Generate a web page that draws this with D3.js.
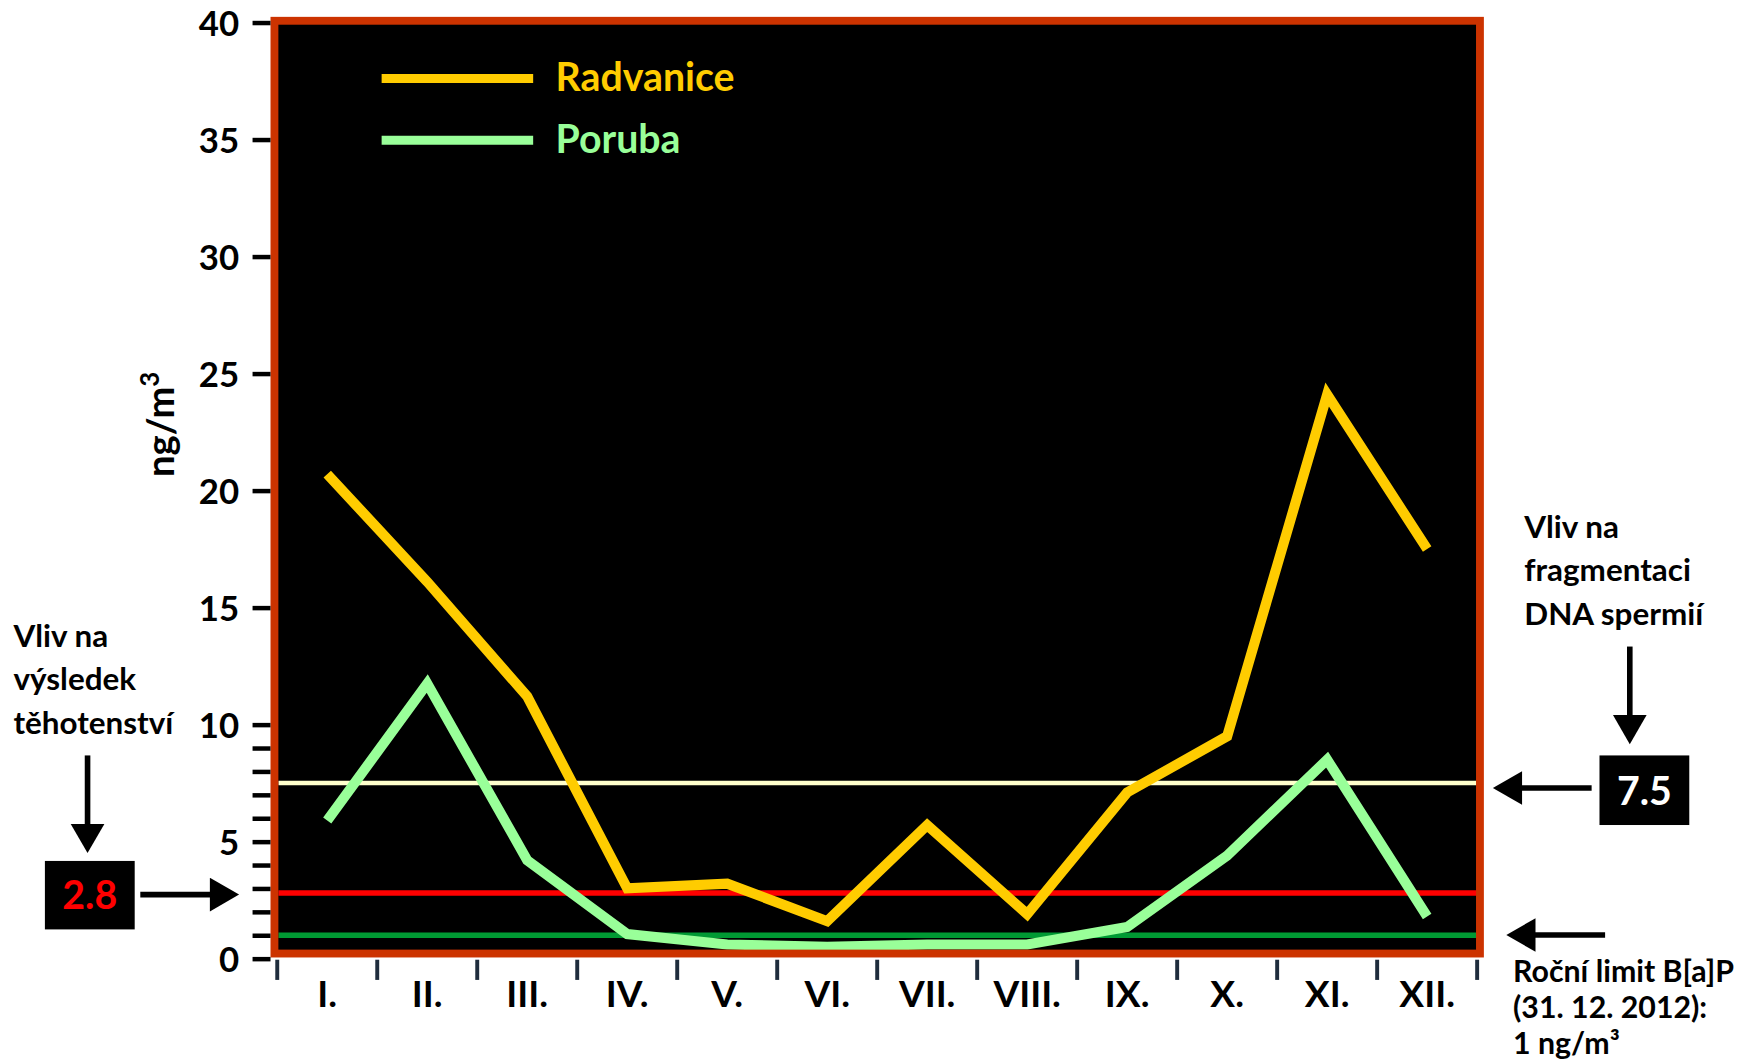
<!DOCTYPE html>
<html>
<head>
<meta charset="utf-8">
<script src="https://cdn.jsdelivr.net/npm/d3@7"></script>
<style>
html,body{margin:0;padding:0;background:#fff;}
svg{display:block;}
text{font-family:"Lato","Open Sans","Noto Sans",sans-serif;font-weight:bold;}
</style>
</head>
<body>
<svg id="chart" width="1760" height="1063" viewBox="0 0 1568 947"></svg>
<script>
// ---- data ----
const months = ["I.","II.","III.","IV.","V.","VI.","VII.","VIII.","IX.","X.","XI.","XII."];
const radvanice = [20.7, 16.1, 11.2, 3.0, 3.2, 1.6, 5.7, 1.9, 7.1, 9.5, 24.1, 17.5];
const poruba    = [5.9, 11.75, 4.2, 1.05, 0.6, 0.5, 0.6, 0.6, 1.35, 4.4, 8.5, 1.8];
const seriesNames = ["Radvanice", "Poruba"];
const refValues = [7.5, 2.8, 1.0];
const yMajorTicks = [0, 5, 10, 15, 20, 25, 30, 35, 40];
const yMinorTicks = [1, 2, 3, 4, 6, 7, 8, 9];
const leftNote = ["Vliv na", "výsledek", "těhotenství"];
const rightNote = ["Vliv na", "fragmentaci", "DNA spermií"];
const limitNote = ["Roční limit B[a]P", "(31. 12. 2012):", "1 ng/m³"];

// ---- styles ----
const seriesColors = ["#FFCC00", "#99FF99"];
const refColors = ["#FFFFCC", "#FF0000", "#009933"];
const refWidths = [4, 5, 5];

const svg = d3.select("#chart");

const x = d3.scaleBand().domain(months).range([247, 1316]);
const y = d3.scaleLinear().domain([0, 40]).range([854, 20]);

// plot background
svg.append("rect").attr("x", 244.5).attr("y", 18.5).attr("width", 1074).attr("height", 831).attr("fill", "#000");

// reference lines
svg.selectAll("line.ref").data(refValues).enter().append("line")
  .attr("x1", 248).attr("x2", 1318)
  .attr("y1", d => y(d)).attr("y2", d => y(d))
  .attr("stroke", (d, i) => refColors[i]).attr("stroke-width", (d, i) => refWidths[i]);

// series lines
const line = d3.line().x((d, i) => x(months[i]) + x.bandwidth() / 2).y(d => y(d));
[radvanice, poruba].forEach((s, i) => {
  svg.append("path").datum(s).attr("d", line).attr("fill", "none")
    .attr("stroke", seriesColors[i]).attr("stroke-width", 9).attr("stroke-linejoin", "miter");
});

// frame
svg.append("rect").attr("x", 244.5).attr("y", 18.5).attr("width", 1074).attr("height", 831)
  .attr("fill", "none").attr("stroke", "#CC3300").attr("stroke-width", 7);

// y axis
const yAxis = d3.axisLeft(y).tickValues(yMajorTicks).tickSize(16).tickPadding(12).tickFormat(d3.format("d"));
const gy = svg.append("g").attr("transform", "translate(241,0)").call(yAxis);
gy.select(".domain").remove();
gy.selectAll(".tick line").attr("stroke", "#000").attr("stroke-width", 4);
gy.selectAll(".tick text").attr("fill", "#000").attr("font-size", 31).attr("dy", "0.36em")
  .style("font-family", "Lato, 'Open Sans', sans-serif").style("font-weight", "bold");
const yMinor = d3.axisLeft(y).tickValues(yMinorTicks).tickSize(16).tickFormat("");
const gym = svg.append("g").attr("transform", "translate(241,0)").call(yMinor);
gym.select(".domain").remove();
gym.selectAll(".tick line").attr("stroke", "#000").attr("stroke-width", 4);

// y axis title
const yt = svg.append("text").attr("transform", "translate(155,378) rotate(-90)")
  .attr("text-anchor", "middle").attr("font-size", 34).attr("fill", "#000");
yt.append("tspan").text("ng/m");
yt.append("tspan").attr("font-size", 23).attr("dy", -13).text("3");

// x axis ticks
const bounds = months.map(m => x(m)).concat([x.range()[1]]);
svg.selectAll("line.xt").data(bounds).enter().append("line")
  .attr("x1", d => d).attr("x2", d => d).attr("y1", 855).attr("y2", 873)
  .attr("stroke", "#1F2D3D").attr("stroke-width", 3.5);
svg.selectAll("text.xl").data(months).enter().append("text")
  .attr("x", d => x(d) + x.bandwidth() / 2).attr("y", 897)
  .attr("text-anchor", "middle").attr("font-size", 33).attr("fill", "#000").text(d => d);

// legend
seriesNames.forEach((n, i) => {
  const ly = 70 + i * 55;
  svg.append("line").attr("x1", 340).attr("x2", 475).attr("y1", ly).attr("y2", ly)
    .attr("stroke", seriesColors[i]).attr("stroke-width", 8);
  svg.append("text").attr("x", 495).attr("y", ly + 11).attr("font-size", 35)
    .attr("fill", seriesColors[i]).text(n);
});

// arrows
function arrow(x1, y1, x2, y2) {
  const ang = Math.atan2(y2 - y1, x2 - x1);
  const hl = 26, hw = 15;
  const bx = x2 - hl * Math.cos(ang), by = y2 - hl * Math.sin(ang);
  svg.append("line").attr("x1", x1).attr("y1", y1).attr("x2", bx + 2 * Math.cos(ang)).attr("y2", by + 2 * Math.sin(ang))
    .attr("stroke", "#000").attr("stroke-width", 5);
  const px = -Math.sin(ang), py = Math.cos(ang);
  svg.append("path").attr("d", `M${x2},${y2}L${bx + hw * px},${by + hw * py}L${bx - hw * px},${by - hw * py}Z`)
    .attr("fill", "#000");
}

// left note
svg.selectAll("text.ln").data(leftNote).enter().append("text")
  .attr("x", 12).attr("y", (d, i) => 576 + i * 39).attr("font-size", 28).attr("fill", "#000").text(d => d);
arrow(78, 673, 78, 760);
svg.append("rect").attr("x", 40).attr("y", 767).attr("width", 80).attr("height", 61).attr("fill", "#000");
svg.append("text").attr("x", 80).attr("y", 810).attr("text-anchor", "middle").attr("font-size", 35)
  .attr("fill", "#FF0000").text(refValues[1]);
arrow(125, 797, 213, 797);

// right note
svg.selectAll("text.rn").data(rightNote).enter().append("text")
  .attr("x", 1358).attr("y", (d, i) => 479 + i * 39).attr("font-size", 28).attr("fill", "#000").text(d => d);
arrow(1452, 576, 1452, 663);
svg.append("rect").attr("x", 1425).attr("y", 673).attr("width", 80).attr("height", 62).attr("fill", "#000");
svg.append("text").attr("x", 1465).attr("y", 717).attr("text-anchor", "middle").attr("font-size", 35)
  .attr("fill", "#FFFFFF").text(refValues[0]);
arrow(1418, 702, 1330, 702);

// limit note
arrow(1430, 833, 1342, 833);
svg.selectAll("text.lim").data(limitNote).enter().append("text")
  .attr("x", 1348).attr("y", (d, i) => 875 + i * 32).attr("font-size", 27).attr("fill", "#000").text(d => d);
</script>
</body>
</html>
